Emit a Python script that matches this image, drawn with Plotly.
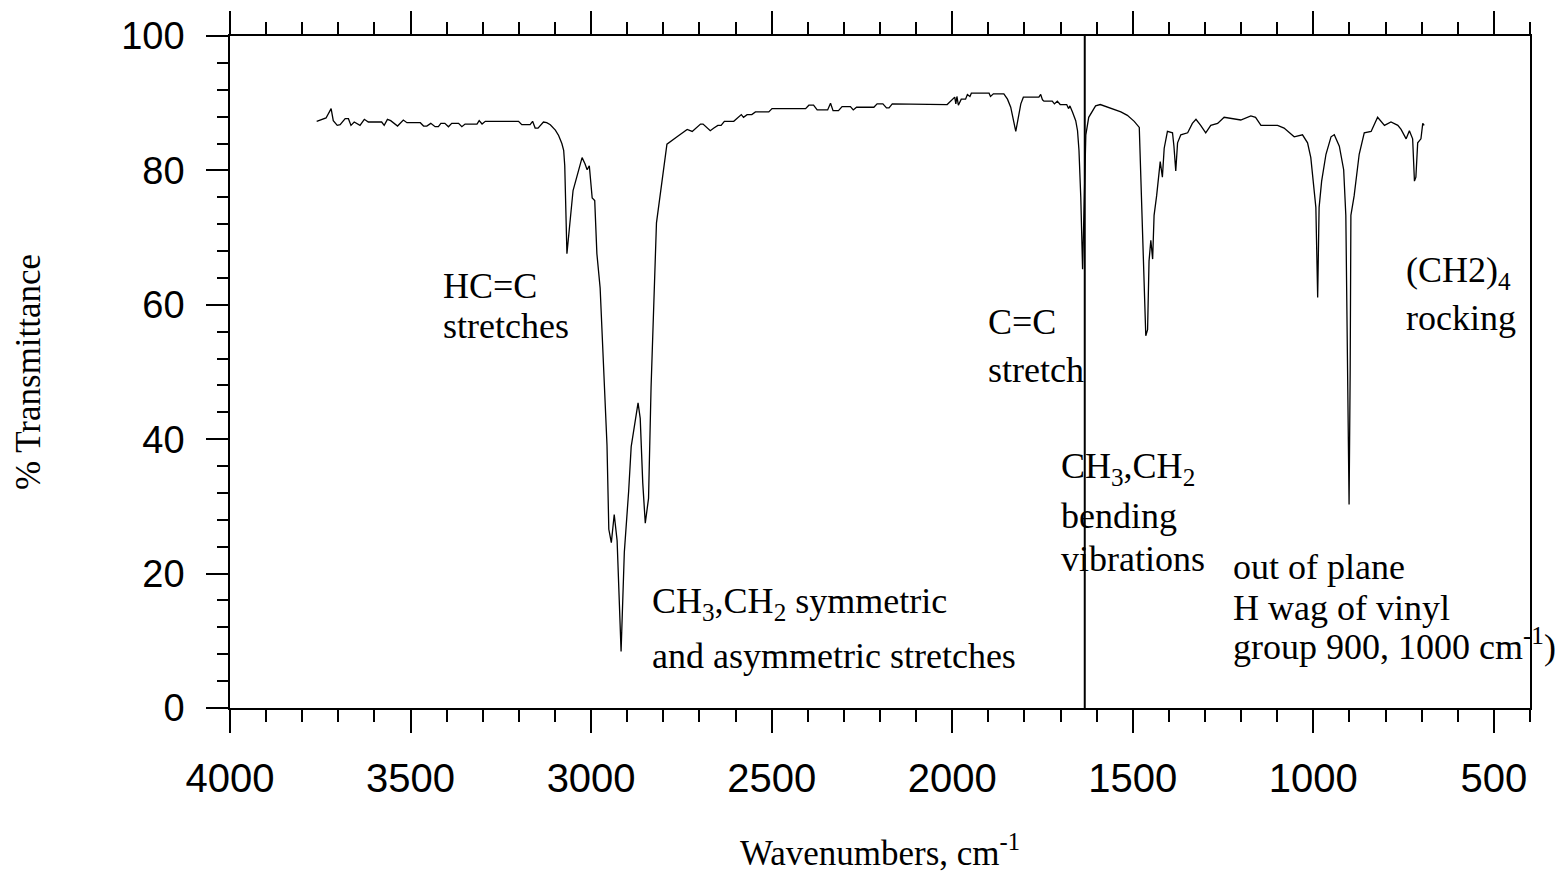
import plotly.graph_objects as go

# Spectrum data (wavenumber cm-1, % transmittance)
wavenumbers = [
    3760, 3746, 3734, 3720, 3714, 3703, 3695, 3681, 3672, 3665, 3656, 3640, 3628, 3617,
    3580, 3573, 3564, 3555, 3545, 3536, 3520, 3510, 3473, 3464, 3455, 3444, 3432, 3423,
    3416, 3405, 3395, 3386, 3367, 3358, 3349, 3316, 3310, 3302, 3293, 3201, 3192, 3169,
    3162, 3155, 3147, 3132, 3123, 3113, 3099, 3090, 3081, 3076, 3073, 3067, 3050, 3025,
    3017, 3011, 3005, 2997, 2990, 2984, 2975, 2965, 2956, 2951, 2944, 2936, 2928, 2917,
    2908, 2896, 2889, 2870, 2864, 2857, 2850, 2841, 2834, 2819, 2803, 2790, 2762, 2734,
    2720, 2697, 2690, 2670, 2660, 2649, 2640, 2631, 2605, 2596, 2590, 2584, 2578, 2568,
    2555, 2545, 2508, 2499, 2406, 2397, 2384, 2374, 2345, 2337, 2330, 2315, 2305, 2282,
    2274, 2265, 2217, 2208, 2192, 2182, 2175, 2166, 2014, 2003, 1993, 1990, 1987, 1983,
    1975, 1963, 1958, 1951, 1947, 1898, 1894, 1886, 1857, 1847, 1838, 1824, 1818, 1810,
    1803, 1760, 1755, 1750, 1746, 1723, 1717, 1709, 1701, 1683, 1678, 1674, 1667, 1658,
    1653, 1649, 1644, 1641, 1639, 1636, 1630, 1622, 1603, 1590, 1570, 1552, 1533, 1515,
    1496, 1482, 1478, 1470, 1464, 1459, 1455, 1450, 1445, 1441, 1434, 1424, 1418, 1413,
    1404, 1390, 1386, 1381, 1376, 1367, 1348, 1335, 1325, 1312, 1298, 1284, 1265, 1247,
    1228, 1201, 1173, 1160, 1145, 1099, 1081, 1053, 1030, 1016, 1007, 998, 993, 988,
    984, 977, 965, 951, 942, 928, 916, 910, 905, 901, 898, 896, 887, 873,
    859, 840, 822, 803, 785, 766, 757, 743, 734, 725, 720, 716, 711, 702,
    697, 693,
]
transmittance = [
    87.3, 87.6, 87.8, 89.2, 87.4, 86.7, 86.8, 87.7, 87.7, 86.7, 87.2, 86.7, 87.6, 87.2,
    87.2, 86.7, 87.6, 87.4, 87.0, 86.6, 87.5, 87.1, 87.1, 86.6, 86.6, 87.0, 86.5, 86.5,
    87.0, 87.0, 86.5, 87.0, 87.0, 86.5, 86.9, 86.9, 87.4, 86.9, 87.3, 87.3, 86.8, 86.8,
    87.3, 86.3, 86.3, 87.2, 87.1, 86.8, 86.0, 85.2, 84.0, 83.0, 80.7, 67.6, 77.0, 81.9,
    81.0, 80.1, 80.7, 75.9, 75.5, 67.6, 62.5, 50.6, 39.1, 26.6, 24.6, 28.8, 24.9, 8.4,
    23.2, 32.3, 38.9, 45.4, 43.1, 33.5, 27.5, 31.2, 47.7, 72.2, 78.4, 83.9, 85.0, 86.1,
    85.8, 86.9, 86.9, 85.9, 86.3, 86.7, 86.7, 87.3, 87.3, 87.7, 87.9, 88.3, 87.9, 88.3,
    88.3, 88.7, 88.7, 89.2, 89.2, 89.7, 89.7, 89.0, 89.0, 90.0, 88.9, 88.9, 89.5, 89.5,
    89.0, 89.4, 89.4, 89.9, 89.9, 89.3, 89.3, 89.9, 89.8, 90.3, 90.9, 89.9, 91.0, 89.7,
    90.6, 90.6, 91.3, 91.0, 91.5, 91.5, 91.0, 91.4, 91.4, 90.6, 89.4, 85.8, 87.5, 89.9,
    90.9, 90.9, 91.3, 90.5, 90.3, 90.3, 89.9, 90.3, 89.8, 89.8, 89.2, 89.6, 88.7, 87.4,
    85.9, 83.0, 76.0, 66.0, 65.3, 72.0, 85.3, 87.9, 89.6, 89.8, 89.4, 89.0, 88.7, 88.2,
    87.3, 86.4, 80.1, 65.3, 55.4, 56.3, 66.5, 69.6, 66.8, 73.3, 76.2, 81.3, 79.0, 83.3,
    85.8, 85.6, 83.6, 79.9, 84.1, 85.3, 85.6, 87.0, 87.6, 86.7, 85.6, 86.7, 87.0, 87.9,
    87.7, 87.5, 88.1, 87.9, 86.7, 86.7, 86.3, 85.0, 85.3, 84.1, 81.9, 77.3, 74.5, 61.1,
    74.5, 78.4, 82.4, 85.0, 85.3, 83.6, 80.1, 73.3, 50.0, 30.3, 50.0, 73.3, 76.2, 82.4,
    85.6, 85.8, 87.9, 86.7, 87.2, 86.7, 86.1, 84.7, 85.9, 84.7, 78.4, 79.0, 84.1, 84.7,
    87.0, 86.7,
]

marker_line_wn = 1633  # vertical marker line

x_tickvals = [4000, 3500, 3000, 2500, 2000, 1500, 1000, 500]
y_tickvals = [0, 20, 40, 60, 80, 100]

# annotation text lines: (text, x in cm-1, y in %T)
annotation_lines = [
    ("HC=C", 3415, 62.8),
    ("stretches", 3415, 56.8),
    ("CH<sub>3</sub>,CH<sub>2</sub> symmetric", 2836, 15.5),
    ("and asymmetric stretches", 2836, 7.7),
    ("C=C", 1907, 57.4),
    ("stretch", 1907, 50.3),
    ("CH<sub>3</sub>,CH<sub>2</sub>", 1705, 35.7),
    ("bending", 1705, 28.6),
    ("vibrations", 1705, 22.2),
    ("(CH2)<sub>4</sub>", 750, 64.8),
    ("rocking", 750, 58.0),
    ("out of plane", 1228, 21.0),
    ("H wag of vinyl", 1228, 14.9),
    ("group 900, 1000 cm<sup>-1</sup>)", 1228, 9.4),
]

SERIF = "Liberation Serif, Times New Roman, serif"
SANS = "Liberation Sans, Arial, sans-serif"

fig = go.Figure()
fig.add_trace(go.Scatter(
    x=wavenumbers, y=transmittance, mode="lines",
    line=dict(color="black", width=1.3), showlegend=False, hoverinfo="x+y",
))

fig.add_shape(type="line", xref="x", yref="y",
              x0=marker_line_wn, x1=marker_line_wn, y0=0, y1=100,
              line=dict(color="black", width=2))

for text, xv, yv in annotation_lines:
    fig.add_annotation(x=xv, y=yv, xref="x", yref="y", text=text,
                       showarrow=False, xanchor="left", yanchor="middle",
                       font=dict(family=SERIF, size=36, color="black"))

fig.update_layout(
    width=1555, height=873,
    margin=dict(l=230, r=25, t=36, b=165, autoexpand=False),
    paper_bgcolor="white", plot_bgcolor="white",
    showlegend=False,
    xaxis=dict(
        range=[4000, 400], tickvals=x_tickvals,
        showgrid=False, zeroline=False,
        showline=True, linecolor="black", linewidth=1.5, mirror="ticks",
        ticks="outside", ticklen=23, tickwidth=1.5, tickcolor="black",
        minor=dict(dtick=100, tick0=0, ticks="outside", ticklen=12,
                   tickwidth=1.5, tickcolor="black", showgrid=False),
        tickfont=dict(family=SANS, size=40, color="black"),
        ticklabelstandoff=11,
        title=dict(text="Wavenumbers, cm<sup>-1</sup>",
                   font=dict(family=SERIF, size=35, color="black"), standoff=42),
        automargin=False,
    ),
    yaxis=dict(
        range=[0, 100], tickvals=y_tickvals,
        showgrid=False, zeroline=False,
        showline=True, linecolor="black", linewidth=1.5, mirror=True,
        ticks="outside", ticklen=22, tickwidth=1.5, tickcolor="black",
        minor=dict(dtick=4, tick0=0, ticks="outside", ticklen=11,
                   tickwidth=1.5, tickcolor="black", showgrid=False),
        tickfont=dict(family=SANS, size=38, color="black"),
        ticklabelstandoff=14,
        title=dict(text="% Transmittance",
                   font=dict(family=SERIF, size=35, color="black"), standoff=70),
        automargin=False,
    ),
)

fig.write_html("out.html")
